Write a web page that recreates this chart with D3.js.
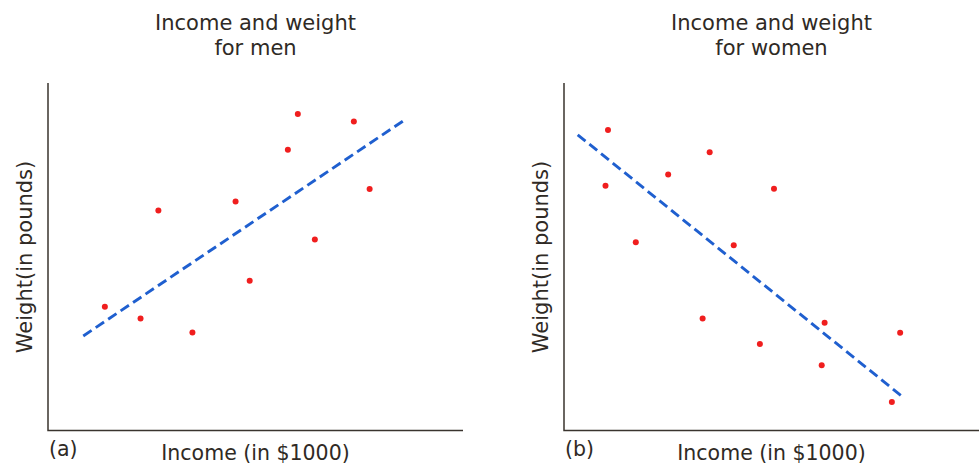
<!DOCTYPE html>
<html>
<head>
<meta charset="utf-8">
<script src="https://cdn.jsdelivr.net/npm/d3@7"></script>
<style>
  body { margin: 0; background: #fff; }
  text { font-family: "DejaVu Sans", sans-serif; fill: #2f2a25; }
</style>
</head>
<body>
<div class="chart-container"></div>
<script>
var width = 980,
    height = 464;

// men: income vs weight (arbitrary units 0-10)
var menIncome = [1.37, 2.23, 2.66, 3.48, 4.52, 4.86, 5.78, 6.02, 6.43, 7.37, 7.75];
var menWeight = [3.56, 3.22, 6.33, 2.82, 6.59, 4.31, 8.08, 9.11, 5.50, 8.89, 6.95];
var menTrend = [[0.85, 2.72], [8.56, 8.91]];

// women
var womenIncome = [1.06, 1.00, 1.73, 2.51, 3.51, 3.34, 4.09, 5.06, 4.72, 6.28, 6.21, 8.10, 7.90];
var womenWeight = [8.65, 7.04, 5.42, 7.37, 8.01, 3.22, 5.33, 6.96, 2.49, 3.10, 1.88, 2.81, 0.82];
var womenTrend = [[0.33, 8.51], [8.18, 0.95]];

var panels = [
    { title: ["Income and weight", "for men"], tag: "(a)", left: 48, income: menIncome, weight: menWeight, trend: menTrend },
    { title: ["Income and weight", "for women"], tag: "(b)", left: 564, income: womenIncome, weight: womenWeight, trend: womenTrend }
];

var svg = d3.select(".chart-container").append("svg")
    .attr("width", width)
    .attr("height", height);

var plotW = 415,
    plotTop = 83,
    plotBottom = 430.5;

panels.forEach(function(p) {
    var g = svg.append("g");
    var x = d3.scaleLinear().domain([0, 10]).range([p.left, p.left + plotW]);
    var y = d3.scaleLinear().domain([0, 10]).range([plotBottom, plotTop]);
    var cx = p.left + plotW / 2;

    // axes without ticks
    g.append("path")
        .attr("d", "M" + x(0) + "," + y(10) + "V" + y(0) + "H" + x(10))
        .attr("fill", "none")
        .attr("stroke", "#3a342e")
        .attr("stroke-width", 1.5);

    g.append("text")
        .attr("x", cx).attr("y", 30)
        .attr("text-anchor", "middle")
        .style("font-size", "21px")
        .text(p.title[0]);
    g.append("text")
        .attr("x", cx).attr("y", 55)
        .attr("text-anchor", "middle")
        .style("font-size", "21px")
        .text(p.title[1]);

    g.append("text")
        .attr("x", cx).attr("y", 460)
        .attr("text-anchor", "middle")
        .style("font-size", "20.5px")
        .text("Income (in $1000)");

    g.append("text")
        .attr("x", p.left + 1).attr("y", 456)
        .style("font-size", "20.5px")
        .text(p.tag);

    g.append("text")
        .attr("transform", "translate(" + (p.left - 16) + ",257) rotate(-90)")
        .attr("text-anchor", "middle")
        .style("font-size", "21px")
        .text("Weight(in pounds)");

    var line = d3.line()
        .x(function(d) { return x(d[0]); })
        .y(function(d) { return y(d[1]); });

    g.append("path")
        .datum(p.trend)
        .attr("d", line)
        .attr("fill", "none")
        .attr("stroke", "#1f5fcf")
        .attr("stroke-width", 2.9)
        .attr("stroke-dasharray", "10,5");

    g.selectAll(".point")
        .data(p.income)
        .enter().append("circle")
        .attr("class", "point")
        .attr("cx", function(d) { return x(d); })
        .attr("cy", function(d, i) { return y(p.weight[i]); })
        .attr("r", 3)
        .attr("fill", "#f01e1e");
});
</script>
</body>
</html>
